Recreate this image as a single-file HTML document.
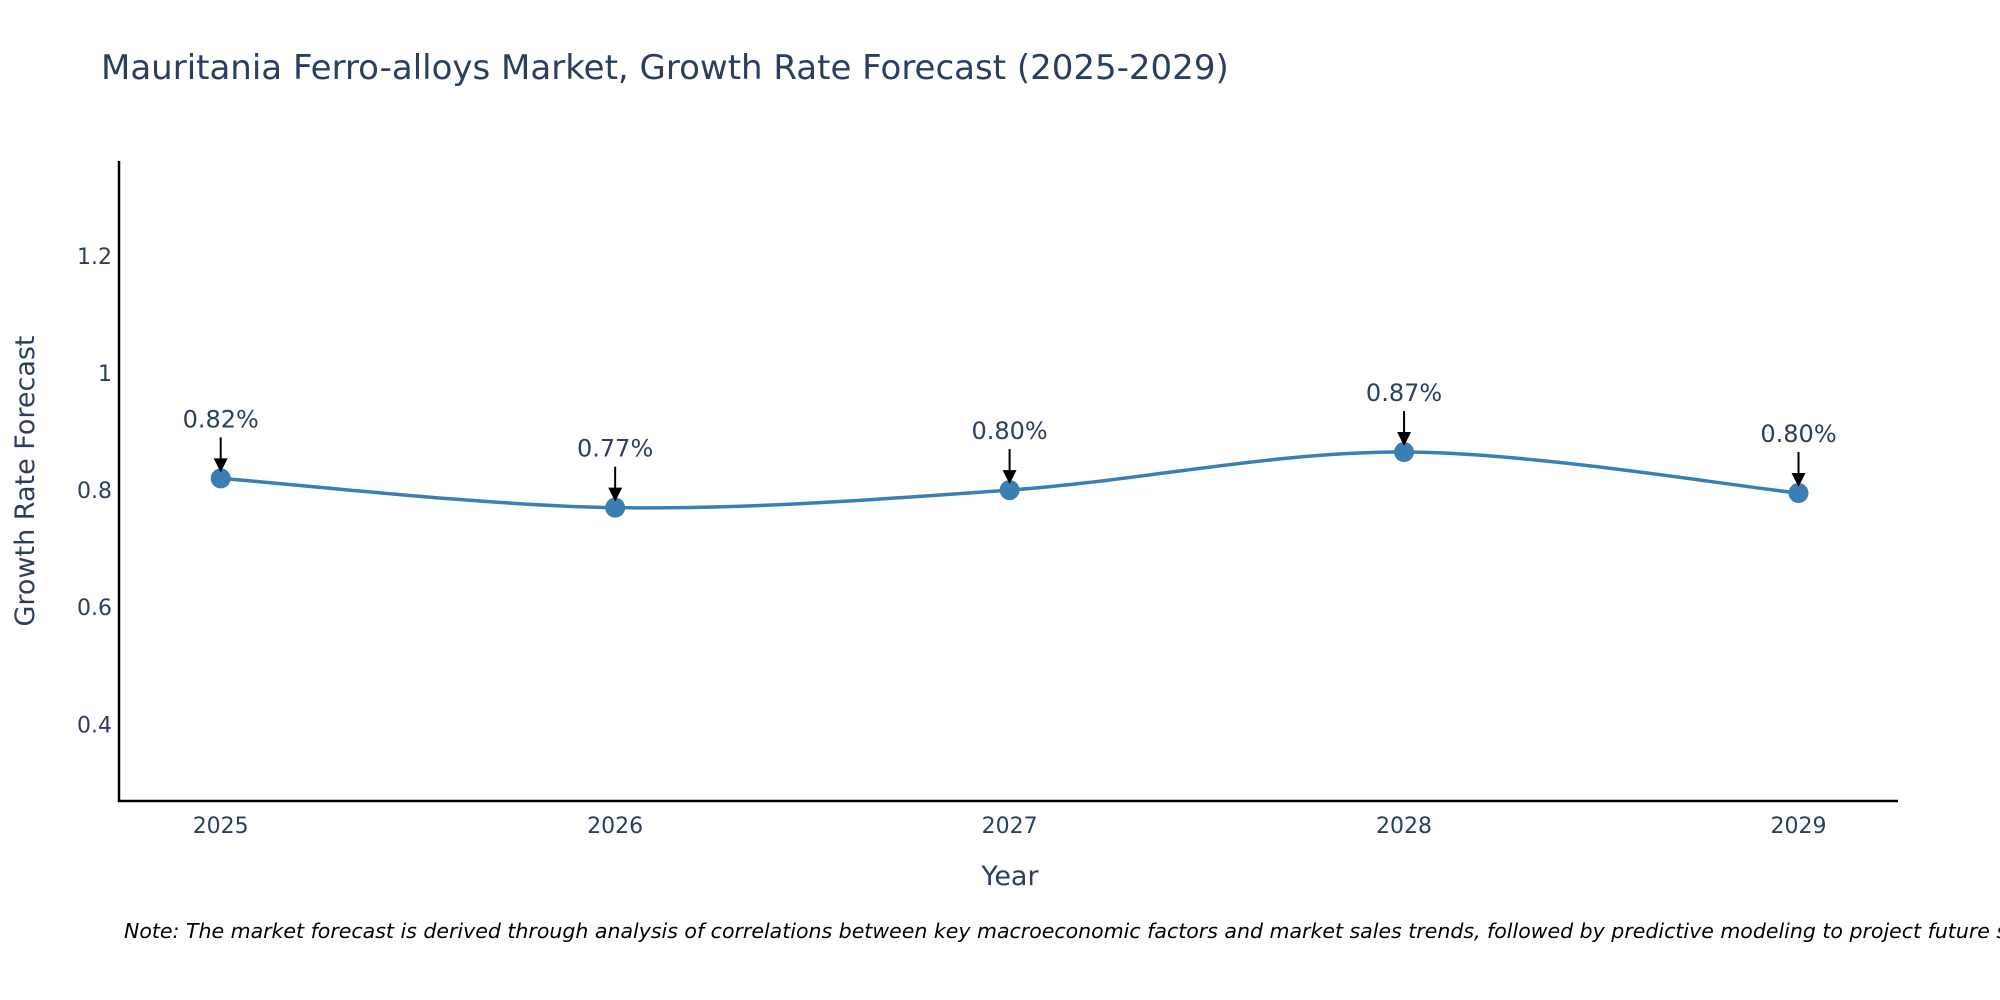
<!DOCTYPE html>
<html><head><meta charset="utf-8"><style>
html,body{margin:0;padding:0;background:#fff;width:2000px;height:1000px;overflow:hidden}
svg{display:block}
text{font-family:"DejaVu Sans","Liberation Sans",sans-serif;fill:#2a3f5f}
</style></head><body>
<svg id="chart" width="2000" height="1000" viewBox="0 0 2000 1000" xmlns="http://www.w3.org/2000/svg">
<text x="101" y="79" font-size="34">Mauritania Ferro-alloys Market, Growth Rate Forecast (2025-2029)</text>
<g id="yticks"></g><g id="xticks"></g>
<line x1="119" y1="161" x2="119" y2="802" stroke="#000" stroke-width="2.5"/>
<line x1="118" y1="801" x2="1898" y2="801" stroke="#000" stroke-width="2.5"/>
<g id="series"></g>
<text x="1010" y="885" font-size="27" text-anchor="middle">Year</text>
<text transform="translate(34,481) rotate(-90)" font-size="27" text-anchor="middle">Growth Rate Forecast</text>
<text x="124" y="938" font-size="20.5" font-style="italic" style="fill:#000">Note: The market forecast is derived through analysis of correlations between key macroeconomic factors and market sales trends, followed by predictive modeling to project future sales.</text>
</svg>
<script>
const years = [2025, 2026, 2027, 2028, 2029];
const growth = [0.82, 0.77, 0.80, 0.865, 0.795];
const valueLabels = ["0.82%", "0.77%", "0.80%", "0.87%", "0.80%"];
const yTickVals = [0.4, 0.6, 0.8, 1, 1.2];
const yTickLabels = ["0.4", "0.6", "0.8", "1", "1.2"];

const NS = "http://www.w3.org/2000/svg";
const xS = v => 220.7 + (v - 2025) * 394.45;
const yS = v => 801 - (v - 0.269) * 585.5;
function mk(tag, attrs, parent, txt){const e=document.createElementNS(NS,tag);for(const k in attrs)e.setAttribute(k,attrs[k]);if(txt!==undefined)e.textContent=txt;parent.appendChild(e);return e;}
const yt=document.getElementById('yticks'), xt=document.getElementById('xticks'), sg=document.getElementById('series');
yTickVals.forEach((v,i)=>{
  const t=mk('text',{x:112,y:yS(v)+8,'font-size':22,'text-anchor':'end'},yt,yTickLabels[i]);
  
  
});
years.forEach(v=>{
  const t=mk('text',{x:xS(v),y:833,'font-size':22,'text-anchor':'middle'},xt,String(v));
  
  
});
const P=years.map((y,i)=>[xS(y),yS(growth[i])]);
let d=`M${P[0][0]},${P[0][1]}`;
const s=0.33;
for(let i=0;i<P.length-1;i++){
  const p0=P[Math.max(0,i-1)],p1=P[i],p2=P[i+1],p3=P[Math.min(P.length-1,i+2)];
  const c1=[p1[0]+(p2[0]-p0[0])*s/2, p1[1]+(p2[1]-p0[1])*s/2];
  const c2=[p2[0]-(p3[0]-p1[0])*s/2, p2[1]-(p3[1]-p1[1])*s/2];
  d+=` C${c1[0]},${c1[1]} ${c2[0]},${c2[1]} ${p2[0]},${p2[1]}`;
}
const ln=mk('path',{d:d,fill:'none',stroke:'#3a7fb4','stroke-width':3.5},sg);


P.forEach((p,i)=>{
  const c=mk('circle',{cx:p[0],cy:p[1],r:10,fill:'#3a7fb4'},sg);
  
  
  const a=mk('line',{x1:p[0],y1:p[1]-41,x2:p[0],y2:p[1]-12,stroke:'#000','stroke-width':2},sg);
  
  
  const h=mk('path',{d:`M${p[0]-7},${p[1]-20} L${p[0]+7},${p[1]-20} L${p[0]},${p[1]-6} z`,fill:'#000'},sg);
  
  
  const t=mk('text',{x:p[0],y:p[1]-51,'font-size':24,'text-anchor':'middle'},sg,valueLabels[i]);
  
  
});
</script>
</body></html>
